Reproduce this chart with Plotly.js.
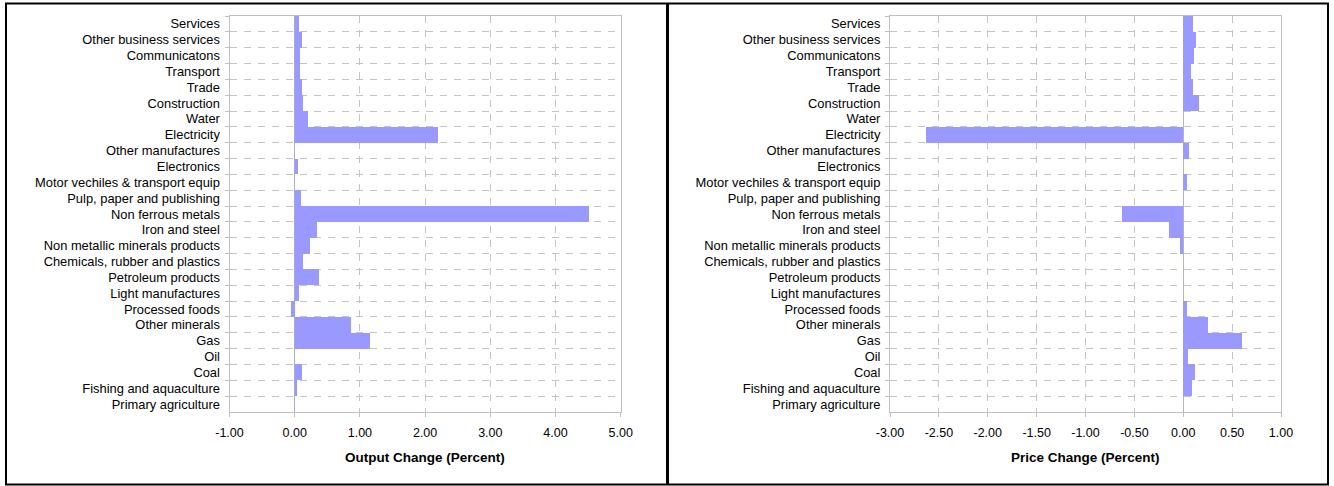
<!DOCTYPE html>
<html>
<head>
<meta charset="utf-8">
<script src="https://cdn.plot.ly/plotly-3.0.1.min.js"></script>
<style>
html,body{margin:0;padding:0;background:#fff;}
#chart{width:1334px;height:486px;}
</style>
</head>
<body>
<div id="chart"></div>
<script>
// Sectors, top to bottom as shown
const sectors = [
  "Services", "Other business services", "Communicatons", "Transport", "Trade",
  "Construction", "Water", "Electricity", "Other manufactures", "Electronics",
  "Motor vechiles & transport equip", "Pulp, paper and publishing", "Non ferrous metals",
  "Iron and steel", "Non metallic minerals products", "Chemicals, rubber and plastics",
  "Petroleum products", "Light manufactures", "Processed foods", "Other minerals",
  "Gas", "Oil", "Coal", "Fishing and aquaculture", "Primary agriculture"
];

// Output change (percent)
const outputChange = [
  0.06, 0.11, 0.08, 0.08, 0.11,
  0.13, 0.20, 2.20, 0.00, 0.05,
  0.00, 0.10, 4.51,
  0.34, 0.23, 0.13,
  0.37, 0.07, -0.05, 0.86,
  1.15, 0.00, 0.11, 0.04, 0.00
];

// Price change (percent)
const priceChange = [
  0.10, 0.13, 0.11, 0.08, 0.10,
  0.16, 0.00, -2.63, 0.06, 0.00,
  0.04, 0.00, -0.63,
  -0.15, -0.03, 0.00,
  0.00, 0.00, 0.04, 0.25,
  0.60, 0.05, 0.12, 0.09, 0.00
];

const outputTicks = [-1, 0, 1, 2, 3, 4, 5];
const outputTickText = ["-1.00", "0.00", "1.00", "2.00", "3.00", "4.00", "5.00"];
const priceTicks = [-3, -2.5, -2, -1.5, -1, -0.5, 0, 0.5, 1];
const priceTickText = ["-3.00", "-2.50", "-2.00", "-1.50", "-1.00", "-0.50", "0.00", "0.50", "1.00"];

const W = 1334, H = 486;
const px = v => v / W;
const py = v => 1 - v / H;

const barColor = '#9999FF';
const gridColor = '#c4c4c4';
const fontFam = '"Liberation Sans", Arial, sans-serif';

function xAxis(range, ticks, ticktext, domain, zc) {
  return {
    domain: domain, range: range, tickmode: 'array', tickvals: ticks, ticktext: ticktext,
    fixedrange: true,
    showgrid: true, gridcolor: gridColor, griddash: '7px,7px', gridwidth: 1,
    zeroline: true, zerolinecolor: zc, zerolinewidth: 1,
    showline: true, linecolor: '#c0c0c0', linewidth: 1, mirror: true,
    ticks: 'outside', ticklen: 4, tickcolor: '#c0c0c0',
    ticklabelstandoff: 5,
    tickfont: {family: fontFam, size: 12.5, color: '#000'}
  };
}
function yAxis(domain, anchor) {
  return {
    domain: domain, type: 'category', categoryorder: 'array', categoryarray: sectors,
    autorange: 'reversed', tickson: 'boundaries', fixedrange: true,
    showgrid: true, gridcolor: gridColor, griddash: '7px,7px', gridwidth: 1,
    showline: true, linecolor: '#c0c0c0', linewidth: 1, mirror: true,
    ticks: 'outside', ticklen: 4, tickcolor: '#c0c0c0',
    ticklabelstandoff: 6, anchor: anchor,
    tickfont: {family: fontFam, size: 12.9, color: '#000'}
  };
}

const yDom = [py(412), py(16)];

const data = [
  {type: 'bar', orientation: 'h', x: outputChange, y: sectors, xaxis: 'x', yaxis: 'y',
   marker: {color: barColor, line: {width: 0}}, width: 1, hoverinfo: 'x+y'},
  {type: 'bar', orientation: 'h', x: priceChange, y: sectors, xaxis: 'x2', yaxis: 'y2',
   marker: {color: barColor, line: {width: 0}}, width: 1, hoverinfo: 'x+y'}
];

const layout = {
  width: W, height: H,
  margin: {l: 0, r: 0, t: 0, b: 0},
  paper_bgcolor: '#ffffff', plot_bgcolor: '#ffffff',
  showlegend: false, bargap: 0,
  font: {family: fontFam, size: 12, color: '#000'},
  xaxis: Object.assign(xAxis([-1, 5], outputTicks, outputTickText, [px(229.5), px(620.7)], '#a9a9d6'), {anchor: 'y'}),
  yaxis: yAxis(yDom, 'x'),
  xaxis2: Object.assign(xAxis([-3, 1], priceTicks, priceTickText, [px(890), px(1281)], '#b4b4c0'), {anchor: 'y2'}),
  yaxis2: yAxis(yDom, 'x2'),
  annotations: [
    {text: '<b>Output Change (Percent)</b>', xref: 'paper', yref: 'paper',
     x: px(425), y: py(457), xanchor: 'center', yanchor: 'middle', showarrow: false,
     font: {family: fontFam, size: 13.5, color: '#000'}},
    {text: '<b>Price Change (Percent)</b>', xref: 'paper', yref: 'paper',
     x: px(1085.5), y: py(457), xanchor: 'center', yanchor: 'middle', showarrow: false,
     font: {family: fontFam, size: 13.5, color: '#000'}}
  ],
  shapes: [
    {type: 'rect', xref: 'paper', yref: 'paper', x0: px(6), x1: px(1328), y0: py(484.5), y1: py(3.5),
     line: {color: '#000', width: 2}},
    {type: 'line', xref: 'paper', yref: 'paper', x0: px(667.5), x1: px(667.5), y0: py(484.5), y1: py(3.5),
     line: {color: '#000', width: 3}}
  ]
};

Plotly.newPlot('chart', data, layout, {displayModeBar: false, staticPlot: true});
</script>
</body>
</html>
